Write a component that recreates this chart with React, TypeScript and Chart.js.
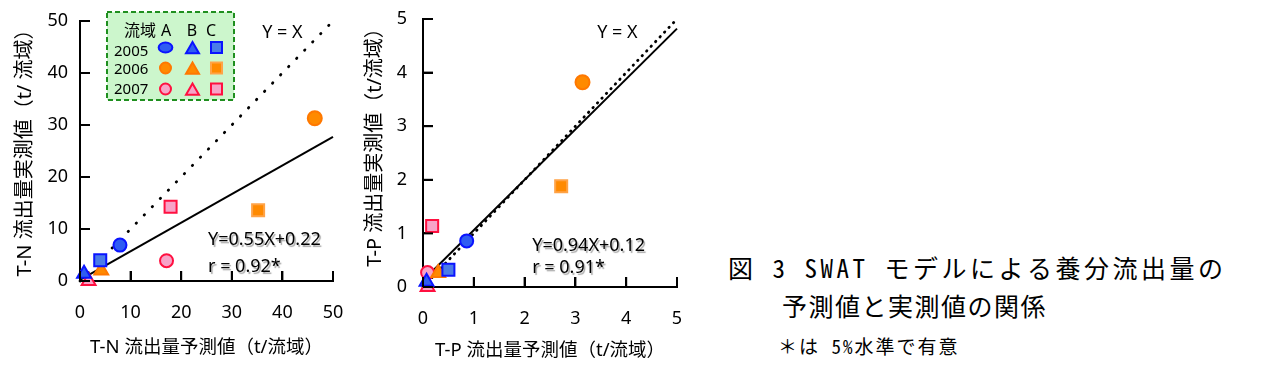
import React, { useEffect, useRef } from 'react';
import { Chart, registerables } from 'chart.js';

Chart.register(...registerables);

const years = ['2005', '2006', '2007'];
const basins = ['A', 'B', 'C'];
const basinHeader = '流域';

const tnPredicted = [7.9, 0.8, 4.0, 46.4, 4.2, 35.2, 17.1, 1.7, 17.9];
const tnObserved = [6.9, 1.4, 4.0, 31.3, 2.0, 13.6, 3.9, 0.0, 14.3];
const tpPredicted = [0.86, 0.07, 0.5, 3.14, 0.3, 2.72, 0.09, 0.09, 0.18];
const tpObserved = [0.86, 0.1, 0.32, 3.82, 0.26, 1.88, 0.27, 0.0, 1.14];

const tnFitX = [0, 50];
const tnFitY = [0.22, 27.72];
const tpFitX = [0, 5];
const tpFitY = [0.12, 4.82];
const tnIdentity = [0, 50];
const tpIdentity = [0, 5];

const tnTicks = [0, 10, 20, 30, 40, 50];
const tpTicks = [0, 1, 2, 3, 4, 5];

const tnXTitle = 'T-N 流出量予測値（t/流域）';
const tnYTitle = 'T-N 流出量実測値（t/ 流域）';
const tpXTitle = 'T-P 流出量予測値（t/流域）';
const tpYTitle = 'T-P 流出量実測値（t/流域）';

const identityLabel = 'Y = X';
const tnFitLabel = 'Y=0.55X+0.22';
const tnRLabel = 'r = 0.92*';
const tpFitLabel = 'Y=0.94X+0.12';
const tpRLabel = 'r = 0.91*';

const captionLine1 = '図 3 SWAT モデルによる養分流出量の';
const captionLine2 = '予測値と実測値の関係';
const captionLine3 = '＊は 5%水準で有意';

const FONT = '"Noto Sans", "Noto Sans CJK JP", sans-serif';
const CAPTION_FONT = '"Noto Sans Mono CJK JP", "Noto Sans CJK JP", sans-serif';
const yearFill = ['#2f5cf2', '#ff8a00', '#f7a3c8'];
const yearBorder = ['#0a14ff', '#ff7800', '#ff1040'];
const squareFill = ['#4a7ce8', '#ff8a00', '#f7a3c8'];
const squareBorder = ['#0a14ff', '#ffa347', '#ff1040'];
const basinStyle = ['circle', 'triangle', 'rect'];
const basinRadius = [6.5, 8, 8.5];

function pointDatasets(xs: number[], ys: number[]) {
  const out: any[] = [];
  years.forEach((yr, yi) => {
    basins.forEach((b, bi) => {
      const i = yi * 3 + bi;
      const isSq = bi === 2;
      out.push({
        label: `${yr} ${b}`,
        data: [{ x: xs[i], y: ys[i] }],
        pointStyle: basinStyle[bi],
        pointRadius: bi === 0 && yi === 1 ? 7 : basinRadius[bi],
        pointBackgroundColor: isSq ? squareFill[yi] : yearFill[yi],
        pointBorderColor: isSq ? squareBorder[yi] : yearBorder[yi],
        pointBorderWidth: 2,
        showLine: false,
        clip: false,
      });
    });
  });
  return out;
}

function lineDataset(xs: number[], ys: number[], dash: number[] | null) {
  return {
    label: dash ? 'Y=X' : 'fit',
    data: xs.map((x, i) => ({ x, y: ys[i] })),
    showLine: true,
    pointRadius: 0,
    borderColor: '#000',
    borderWidth: dash ? 2.8 : 2,
    borderDash: dash || [],
    borderCapStyle: dash ? 'round' : 'butt',
    clip: false,
  };
}

function drawMarker(ctx: CanvasRenderingContext2D, style: string, x: number, y: number, r: number, fill: string, stroke: string) {
  ctx.beginPath();
  if (style === 'circle') {
    ctx.arc(x, y, r, 0, Math.PI * 2);
  } else if (style === 'ellipse') {
    ctx.ellipse(x, y, r * 1.25, r * 0.9, 0, 0, Math.PI * 2);
  } else if (style === 'triangle') {
    ctx.moveTo(x, y - r);
    ctx.lineTo(x + r * Math.sin(Math.PI * 2 / 3), y - r * Math.cos(Math.PI * 2 / 3));
    ctx.lineTo(x + r * Math.sin(Math.PI * 4 / 3), y - r * Math.cos(Math.PI * 4 / 3));
    ctx.closePath();
  } else {
    ctx.rect(x - r, y - r, 2 * r, 2 * r);
  }
  ctx.fillStyle = fill;
  ctx.fill();
  ctx.lineWidth = 2;
  ctx.strokeStyle = stroke;
  ctx.stroke();
}

function drawLegend(ctx: CanvasRenderingContext2D) {
  ctx.save();
  const bx = 107, by = 12, bw = 127, bh = 88;
  ctx.fillStyle = '#ccf6cc';
  ctx.fillRect(bx, by, bw, bh);
  ctx.setLineDash([5, 3]);
  ctx.lineWidth = 2;
  ctx.strokeStyle = '#1f8f1f';
  ctx.strokeRect(bx, by, bw, bh);
  ctx.setLineDash([]);
  ctx.fillStyle = '#000';
  ctx.textBaseline = 'middle';
  ctx.textAlign = 'left';
  ctx.font = `16px ${FONT}`;
  ctx.fillText(basinHeader, 124, 31);
  const headerX = [166, 192, 211];
  ctx.textAlign = 'center';
  basins.forEach((b, i) => ctx.fillText(b, headerX[i], 31));
  ctx.font = `15px ${FONT}`;
  const rowTextY = [52, 70, 90];
  const rowMarkY = [47.5, 68, 89];
  const markX = [165.5, 192.5, 216.5];
  const markR = [5.5, 7.5, 5.5];
  ctx.textAlign = 'left';
  years.forEach((yr, yi) => {
    ctx.fillStyle = '#000';
    ctx.fillText(yr, 114, rowTextY[yi]);
    basins.forEach((b, bi) => {
      const style = bi === 0 && yi === 0 ? 'ellipse' : basinStyle[bi];
      const isSq = bi === 2;
      drawMarker(ctx, style, markX[bi], rowMarkY[yi] + (bi === 1 ? 2 : 0), markR[bi],
        isSq ? squareFill[yi] : yearFill[yi], isSq ? squareBorder[yi] : yearBorder[yi]);
    });
  });
  ctx.restore();
}

type Annot = { text: string; x: number; y: number; shadow: boolean };

function makePanelPlugin(p: PanelSpec) {
  return {
    id: 'panelText',
    afterDraw(chart: any) {
      const ctx: CanvasRenderingContext2D = chart.ctx;
      const xs = chart.scales.x;
      const ys = chart.scales.y;
      const area = chart.chartArea;

      // inward tick marks (filled rectangles)
      ctx.save();
      ctx.fillStyle = '#000';
      p.ticks.forEach((v) => {
        const px = xs.getPixelForValue(v);
        ctx.fillRect(px - 1, area.bottom - 10, 2, 10);
        const py = ys.getPixelForValue(v);
        ctx.fillRect(area.left, py - 1, 10, 2);
      });
      ctx.restore();

      ctx.save();
      ctx.font = `${p.yTitleSize}px ${FONT}`;
      ctx.fillStyle = '#000';
      ctx.textAlign = 'center';
      ctx.textBaseline = 'middle';
      ctx.translate(p.yTitlePos[0], p.yTitlePos[1]);
      ctx.rotate(-Math.PI / 2);
      ctx.fillText(p.yTitle, 0, 0);
      ctx.restore();

      ctx.save();
      ctx.font = `18px ${FONT}`;
      ctx.textAlign = 'left';
      ctx.textBaseline = 'middle';
      p.annots.forEach((a) => {
        if (a.shadow) {
          ctx.shadowColor = 'rgba(0,0,0,0.35)';
          ctx.shadowOffsetX = 1.5;
          ctx.shadowOffsetY = 1.5;
          ctx.shadowBlur = 1;
        } else {
          ctx.shadowColor = 'transparent';
        }
        ctx.fillStyle = '#000';
        ctx.fillText(a.text, xs.getPixelForValue(a.x), ys.getPixelForValue(a.y));
      });
      ctx.restore();
      if (p.legend) drawLegend(ctx);
    },
  };
}

type PanelSpec = {
  xs: number[];
  ys: number[];
  fitX: number[];
  fitY: number[];
  identity: number[];
  identityDash: number[];
  ticks: number[];
  xTitle: string;
  yTitle: string;
  xTitleSize: number;
  yTitleSize: number;
  yTitlePos: number[];
  padTop: number;
  padRight: number;
  yWidth: number;
  xHeight: number;
  xLabelLine: number;
  yLabelPad: number;
  xTitlePad: number;
  annots: Annot[];
  legend: boolean;
};

function zeroPad(s: any) {
  s.paddingTop = 0;
  s.paddingBottom = 0;
  s.paddingLeft = 0;
  s.paddingRight = 0;
}

function buildConfig(p: PanelSpec): any {
  const min = p.ticks[0];
  const max = p.ticks[p.ticks.length - 1];
  const common = () => ({
    type: 'linear',
    min,
    max,
    afterBuildTicks: (s: any) => {
      s.ticks = p.ticks.map((v) => ({ value: v }));
    },
    grid: {
      display: true,
      drawOnChartArea: false,
      drawTicks: true,
      tickLength: -10,
      color: '#000',
      tickColor: '#000',
      lineWidth: 2,
      tickWidth: 2,
    },
    border: { display: true, color: '#000', width: 2 },
  });
  return {
    type: 'scatter',
    data: {
      datasets: [
        ...pointDatasets(p.xs, p.ys),
        lineDataset(p.identity, p.identity, p.identityDash),
        lineDataset(p.fitX, p.fitY, null),
      ],
    },
    options: {
      animation: false,
      responsive: false,
      devicePixelRatio: 1,
      layout: {
        autoPadding: false,
        padding: { left: 0, top: p.padTop, right: p.padRight, bottom: 0 },
      },
      plugins: {
        legend: { display: false },
        tooltip: { enabled: false },
      },
      scales: {
        x: {
          ...common(),
          position: 'bottom',
          ticks: {
            color: '#000',
            font: { family: FONT, size: 18, lineHeight: `${p.xLabelLine}px` },
            padding: 2,
            maxRotation: 0,
            autoSkip: false,
          },
          afterFit: (s: any) => {
            s.height = p.xHeight;
            zeroPad(s);
          },
          title: {
            display: true,
            text: p.xTitle,
            color: '#000',
            font: { family: FONT, size: p.xTitleSize },
            padding: { top: 0, bottom: p.xTitlePad },
          },
        },
        y: {
          ...common(),
          position: 'left',
          ticks: {
            color: '#000',
            font: { family: FONT, size: 18, lineHeight: '6px' },
            padding: p.yLabelPad,
            autoSkip: false,
          },
          afterFit: (s: any) => {
            s.width = p.yWidth;
            zeroPad(s);
          },
          title: { display: false },
        },
      },
    },
    plugins: [makePanelPlugin(p)],
  };
}

const tnSpec: PanelSpec = {
  xs: tnPredicted,
  ys: tnObserved,
  fitX: tnFitX,
  fitY: tnFitY,
  identity: tnIdentity,
  identityDash: [0.5, 11],
  ticks: tnTicks,
  xTitle: tnXTitle,
  yTitle: tnYTitle,
  xTitleSize: 18.5,
  yTitleSize: 20,
  yTitlePos: [25, 148],
  padTop: 21,
  padRight: 17,
  yWidth: 80,
  xHeight: 93,
  xLabelLine: 80,
  yLabelPad: 22,
  xTitlePad: 15,
  annots: [
    { text: identityLabel, x: 36, y: 47.7, shadow: false },
    { text: tnFitLabel, x: 25.3, y: 7.9, shadow: true },
    { text: tnRLabel, x: 25.3, y: 2.7, shadow: true },
  ],
  legend: true,
};

const tpSpec: PanelSpec = {
  xs: tpPredicted,
  ys: tpObserved,
  fitX: tpFitX,
  fitY: tpFitY,
  identity: tpIdentity,
  identityDash: [0.5, 6],
  ticks: tpTicks,
  xTitle: tpXTitle,
  yTitle: tpYTitle,
  xTitleSize: 18.5,
  yTitleSize: 20,
  yTitlePos: [20, 142.5],
  padTop: 19,
  padRight: 23,
  yWidth: 68,
  xHeight: 87,
  xLabelLine: 79,
  yLabelPad: 26,
  xTitlePad: 12,
  annots: [
    { text: identityLabel, x: 3.43, y: 4.74, shadow: false },
    { text: tpFitLabel, x: 2.15, y: 0.76, shadow: true },
    { text: tpRLabel, x: 2.15, y: 0.35, shadow: true },
  ],
  legend: false,
};

function Panel({ spec, left, width }: { spec: PanelSpec; left: number; width: number }) {
  const ref = useRef<HTMLCanvasElement | null>(null);
  useEffect(() => {
    if (!ref.current) return;
    const chart = new Chart(ref.current, buildConfig(spec));
    return () => chart.destroy();
  }, [spec]);
  return (
    <canvas
      ref={ref}
      width={width}
      height={374}
      style={{ position: 'absolute', left, top: 0, width, height: 374, display: 'block' }}
    />
  );
}

export default function App() {
  const capStyle = (left: number, top: number, size: number, ls: number): React.CSSProperties => ({
    position: 'absolute',
    left,
    top,
    fontFamily: CAPTION_FONT,
    fontSize: size,
    lineHeight: `${size}px`,
    letterSpacing: ls,
    whiteSpace: 'pre',
    color: '#000',
  });
  return (
    <div style={{ position: 'absolute', left: 0, top: 0, width: 1270, height: 374, background: '#fff', overflow: 'hidden' }}>
      <Panel spec={tnSpec} left={0} width={350} />
      <Panel spec={tpSpec} left={355} width={345} />
      <div style={capStyle(728, 255, 25, 3.5)}>{captionLine1}</div>
      <div style={capStyle(782, 293, 25, 1.5)}>{captionLine2}</div>
      <div style={capStyle(778, 336, 19, 2)}>{captionLine3}</div>
    </div>
  );
}
